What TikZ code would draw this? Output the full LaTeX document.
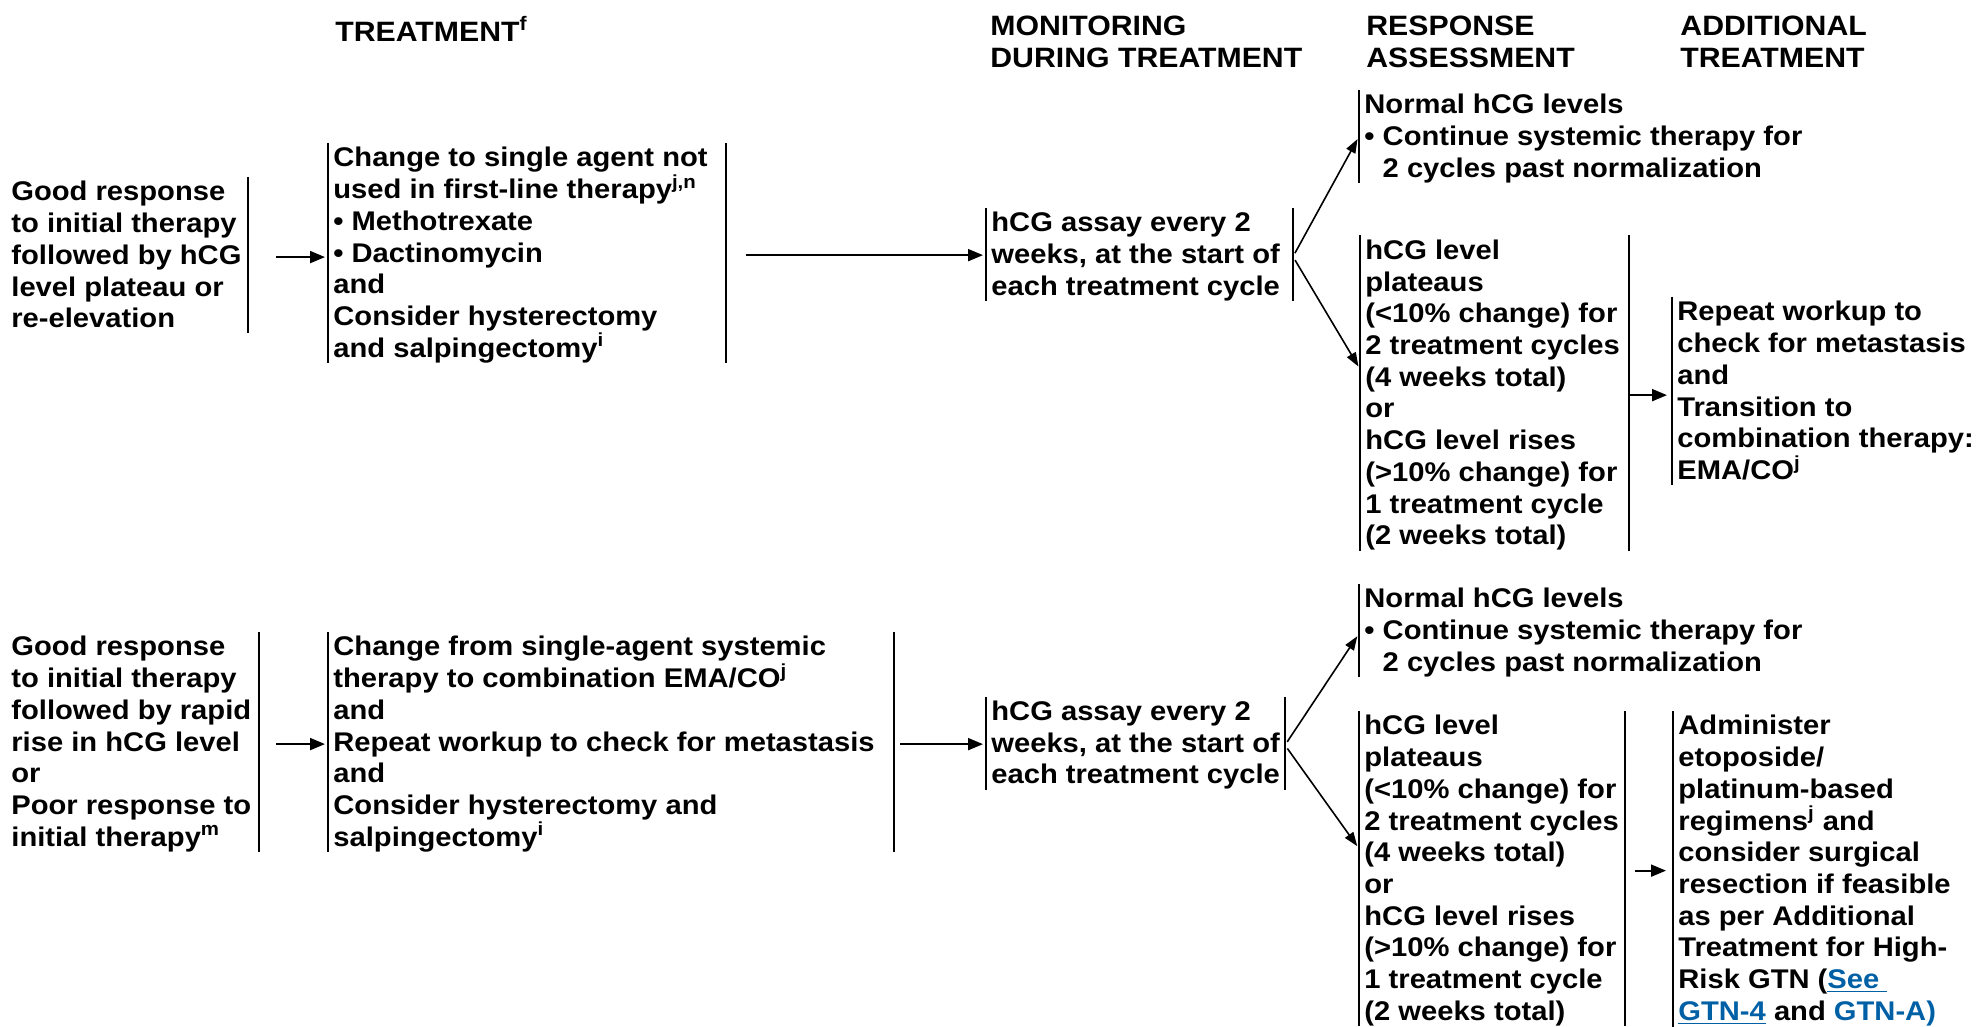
\documentclass[tikz,border=0pt]{standalone}
\usepackage{fontspec}
\setmainfont{Liberation Sans}[FakeStretch=1.08]
\usetikzlibrary{arrows.meta}
\definecolor{linkblue}{RGB}{0,96,166}
\newcommand\bodyfnt{\fontsize{13.5}{15.85}\selectfont\bfseries}
\newcommand\headfnt{\fontsize{14}{16}\selectfont\bfseries}
\newcommand\topstr{\rule{0pt}{13.5pt}}
\newcommand\botstr{\rule[-2.5pt]{0pt}{2.5pt}}
\newcommand\lnk[1]{\textcolor{linkblue}{\underline{#1}}}
\newcommand\lbar[1]{\draw[bar] ([yshift=2pt]#1.north west) -- (#1.south west);}
\newcommand\rbar[2]{\draw[bar] ([xshift=#2,yshift=2pt]#1.north west) -- ([xshift=#2]#1.south west);}
\begin{document}
\begin{tikzpicture}[x=0.5pt,y=-0.5pt,
  box/.style={anchor=north west, inner xsep=2.5pt, inner ysep=0pt, align=left,
    font=\bodyfnt, execute at begin node=\topstr, execute at end node=\botstr},
  head/.style={box, font=\headfnt},
  bar/.style={line width=1pt},
  arr/.style={line width=1pt, -{Triangle[length=7.5pt,width=6pt]}},
  fork/.style={line width=0.8pt, -{Triangle[length=7pt,width=5pt]}}]
\useasboundingbox (0,0) rectangle (1982,1027);

% headers
\node[head] (hT) at (330,14) {TREATMENT\textsuperscript{f}};
\node[head] (hM) at (985,16) {MONITORING\\DURING TREATMENT};
\node[head] (hR) at (1361,16) {RESPONSE\\ASSESSMENT};
\node[head] (hA) at (1675,16) {ADDITIONAL\\TREATMENT};

% row 1
\node[box] (l1) at (6,181) {Good response\\to initial therapy\\followed by hCG\\level plateau or\\re-elevation};
\node[box] (t1) at (328,147) {Change to single agent not\\used in first-line therapy\textsuperscript{j,n}\\\textbullet\ Methotrexate\\\textbullet\ Dactinomycin\\and\\Consider hysterectomy\\and salpingectomy\textsuperscript{i}};
\node[box] (m1) at (986,212) {hCG assay every 2\\weeks, at the start of\\each treatment cycle};
\node[box] (n1) at (1359,93.7) {Normal hCG levels\\\textbullet\ Continue systemic therapy for\\\phantom{\textbullet\ }2 cycles past normalization};
\node[box] (p1) at (1360,239.5) {hCG level\\plateaus\\(<10\% change) for\\2 treatment cycles\\(4 weeks total)\\or\\hCG level rises\\(>10\% change) for\\1 treatment cycle\\(2 weeks total)};
\node[box] (r1) at (1672,301) {Repeat workup to\\check for metastasis\\and\\Transition to\\combination therapy:\\EMA/CO\textsuperscript{j}};

\rbar{l1}{121pt}
\lbar{t1}\rbar{t1}{199pt}
\lbar{m1}\rbar{m1}{153.5pt}
\lbar{n1}
\lbar{p1}\rbar{p1}{134.5pt}
\lbar{r1}

\draw[arr, shorten <=14pt, shorten >=1.5pt] ([xshift=121pt]l1.west) -- (l1.west -| t1.west);
\draw[arr, shorten <=10pt, shorten >=1.5pt] ([xshift=199pt]t1.west) -- (t1.west -| m1.west);
\draw[fork, shorten <=2pt, shorten >=1.5pt] ([xshift=153.5pt]m1.west) -- ([yshift=1pt]n1.west);
\draw[fork, shorten <=2pt, shorten >=1.5pt] ([xshift=153.5pt]m1.west) -- ([yshift=13pt]p1.west);
\draw[arr, shorten <=0.5pt, shorten >=2.5pt] ([xshift=134.5pt]p1.west) -- (p1.west -| r1.west);

% row 2
\node[box] (l2) at (6,636) {Good response\\to initial therapy\\followed by rapid\\rise in hCG level\\or\\Poor response to\\initial therapy\textsuperscript{m}};
\node[box] (t2) at (328,636) {Change from single-agent systemic\\therapy to combination EMA/CO\textsuperscript{j}\\and\\Repeat workup to check for metastasis\\and\\Consider hysterectomy and\\salpingectomy\textsuperscript{i}};
\node[box] (m2) at (986,700.5) {hCG assay every 2\\weeks, at the start of\\each treatment cycle};
\node[box] (n2) at (1359,588) {Normal hCG levels\\\textbullet\ Continue systemic therapy for\\\phantom{\textbullet\ }2 cycles past normalization};
\node[box] (p2) at (1359,715) {hCG level\\plateaus\\(<10\% change) for\\2 treatment cycles\\(4 weeks total)\\or\\hCG level rises\\(>10\% change) for\\1 treatment cycle\\(2 weeks total)};
\node[box] (a2) at (1673,715) {Administer\\etoposide/\\platinum-based\\regimens\textsuperscript{j} and\\consider surgical\\resection if feasible\\as per Additional\\Treatment for High-\\Risk GTN (\lnk{See\ }\\\lnk{GTN-4} and \lnk{GTN-A)}};

\rbar{l2}{126.5pt}
\lbar{t2}\rbar{t2}{283pt}
\lbar{m2}\rbar{m2}{149.5pt}
\lbar{n2}
\lbar{p2}\rbar{p2}{133pt}
\lbar{a2}

\draw[arr, shorten <=8.5pt, shorten >=1.5pt] ([xshift=126.5pt]l2.west) -- (l2.west -| t2.west);
\draw[arr, shorten <=3pt, shorten >=1.5pt] ([xshift=283pt]t2.west) -- (t2.west -| m2.west);
\draw[fork, shorten <=2pt, shorten >=1.5pt] ([xshift=149.5pt]m2.west) -- ([yshift=-0.5pt]n2.west);
\draw[fork, shorten <=2pt, shorten >=1.5pt] ([xshift=149.5pt]m2.west) -- ([yshift=11pt]p2.west);
\draw[arr, shorten <=5pt, shorten >=3.5pt] ([xshift=133pt]p2.west) -- (p2.west -| a2.west);
\end{tikzpicture}
\end{document}
